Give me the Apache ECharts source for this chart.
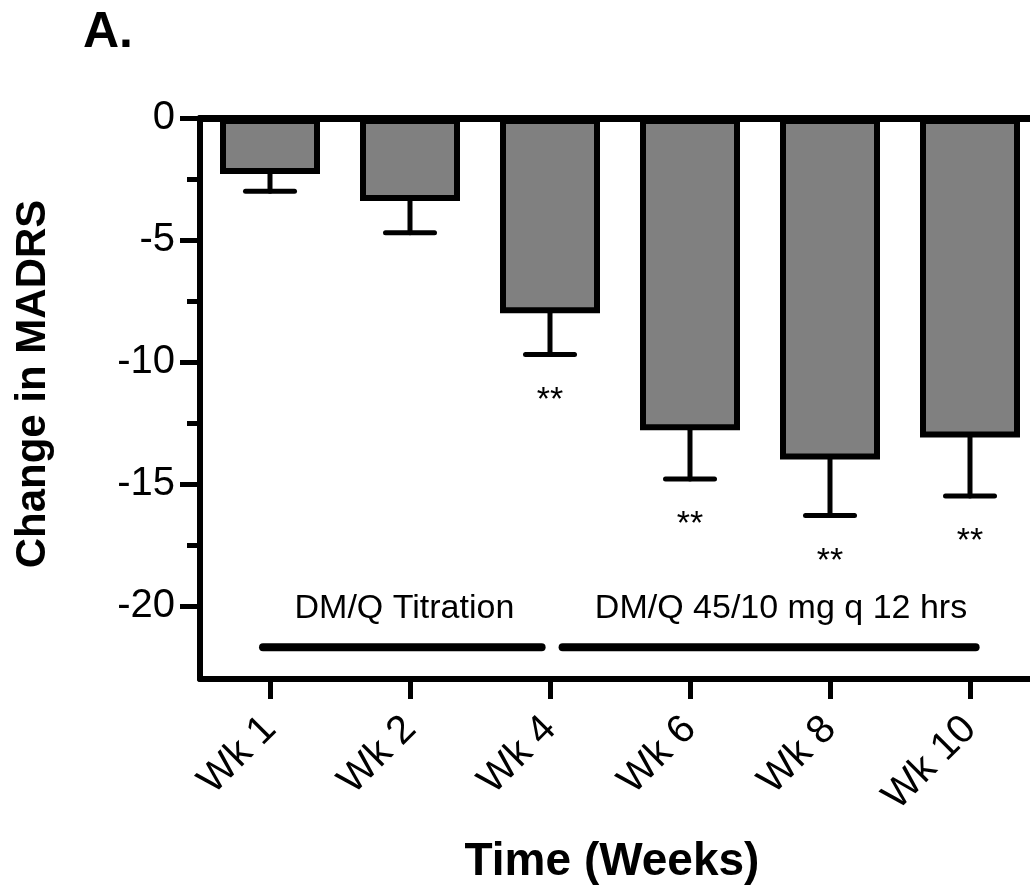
<!DOCTYPE html>
<html>
<head>
<meta charset="utf-8">
<script src="https://cdn.jsdelivr.net/npm/echarts@6/dist/echarts.min.js"></script>
<style>
  html, body { margin: 0; padding: 0; background: #fff; }
  #chart { width: 1030px; height: 893px; }
</style>
</head>
<body>
<div id="chart"></div>
<script>
// ---- data ----
var categories = ['Wk 1', 'Wk 2', 'Wk 4', 'Wk 6', 'Wk 8', 'Wk 10'];
var meanChange = [-2.3, -3.4, -8.0, -12.8, -14.0, -13.1];
var errorLower = [-3.0, -4.7, -9.7, -14.8, -16.3, -15.5];
var significance = ['', '', '**', '**', '**', '**'];
var yMajorTicks = [0, -5, -10, -15, -20];
var yMinorTicks = [-2.5, -7.5, -12.5, -17.5];
var phaseLabels = ['DM/Q Titration', 'DM/Q 45/10 mg q 12 hrs'];
var phaseStart = [-0.05, 2.09];
var phaseEnd = [1.94, 5.04];
var phaseLabelAt = [0.96, 3.65];
var phaseLineValue = -21.7;
var phaseLabelValue = -20.1;

var FONT = '"Liberation Sans", Arial, Helvetica, sans-serif';
var chart = echarts.init(document.getElementById('chart'), null, { renderer: 'canvas' });

function catX(api, pos) {
  var x0 = api.coord([0, 0])[0];
  var bw = api.size([1, 0])[0];
  return x0 + pos * bw;
}

var option = {
  backgroundColor: '#ffffff',
  animation: false,
  grid: { left: 200, right: -10, top: 118, bottom: 214, outerBoundsMode: 'none', containLabel: false },
  xAxis: [{
    type: 'category',
    data: categories,
    position: 'bottom',
    axisLine: { show: true, onZero: false, lineStyle: { color: '#000', width: 6 } },
    axisTick: { show: true, interval: 0, alignWithLabel: true, length: 20, lineStyle: { color: '#000', width: 5 } },
    axisLabel: { rotate: 45, interval: 0, fontSize: 40, margin: 44, color: '#000', fontFamily: FONT },
    splitLine: { show: false }
  }, {
    type: 'category',
    data: categories,
    position: 'top',
    axisLine: { show: true, onZero: false, lineStyle: { color: '#000', width: 7 } },
    axisTick: { show: false },
    axisLabel: { show: false },
    splitLine: { show: false }
  }],
  yAxis: [{
    type: 'value',
    min: -23,
    max: 0,
    position: 'left',
    axisLine: { show: true, onZero: false, lineStyle: { color: '#000', width: 6 } },
    axisTick: { show: true, customValues: yMajorTicks, length: 20, lineStyle: { color: '#000', width: 5 } },
    axisLabel: { customValues: yMajorTicks, fontSize: 40, margin: 25, color: '#000', fontFamily: FONT },
    splitLine: { show: false }
  }, {
    type: 'value',
    min: -23,
    max: 0,
    position: 'left',
    axisLine: { show: false, onZero: false },
    axisTick: { show: true, customValues: yMinorTicks, length: 13, lineStyle: { color: '#000', width: 5 } },
    axisLabel: { show: false },
    splitLine: { show: false }
  }],
  graphic: [
    { type: 'text', left: 83, top: 8, style: { text: 'A.', font: 'bold 50px ' + FONT, fill: '#000' } },
    { type: 'text', x: 33, y: 384, rotation: Math.PI / 2,
      style: { text: 'Change in MADRS', font: 'bold 42px ' + FONT, fill: '#000', align: 'center', verticalAlign: 'middle' } },
    { type: 'text', x: 612, y: 862,
      style: { text: 'Time (Weeks)', font: 'bold 46px ' + FONT, fill: '#000', align: 'center', verticalAlign: 'middle' } }
  ],
  series: [{
    type: 'bar',
    xAxisIndex: 0,
    yAxisIndex: 0,
    data: meanChange,
    barWidth: 100,
    itemStyle: { color: '#808080', borderColor: '#000', borderWidth: 6 },
    z: 3
  }, {
    type: 'custom',
    xAxisIndex: 0,
    yAxisIndex: 0,
    data: categories.map(function (c, i) { return [i, meanChange[i], errorLower[i]]; }),
    z: 2,
    renderItem: function (params, api) {
      var i = api.value(0);
      var pTop = api.coord([i, api.value(1)]);
      var pLow = api.coord([i, api.value(2)]);
      var half = api.size([1, 0])[0] * 0.175;
      var st = { stroke: '#000', lineWidth: 5, lineCap: 'round' };
      var children = [
        { type: 'line', shape: { x1: pTop[0], y1: pTop[1], x2: pLow[0], y2: pLow[1] }, style: st },
        { type: 'line', shape: { x1: pLow[0] - half, y1: pLow[1], x2: pLow[0] + half, y2: pLow[1] }, style: st }
      ];
      if (significance[i]) {
        children.push({ type: 'text', x: pLow[0], y: pLow[1] + 46,
          style: { text: significance[i], font: '34px ' + FONT, fill: '#000', align: 'center', verticalAlign: 'middle' } });
      }
      return { type: 'group', children: children };
    }
  }, {
    type: 'custom',
    xAxisIndex: 0,
    yAxisIndex: 0,
    data: phaseLabels.map(function (l, i) { return [i, phaseLineValue]; }),
    z: 2,
    renderItem: function (params, api) {
      var k = params.dataIndex;
      var y = api.coord([0, phaseLineValue])[1];
      var yt = api.coord([0, phaseLabelValue])[1];
      return { type: 'group', children: [
        { type: 'line', shape: { x1: catX(api, phaseStart[k]), y1: y, x2: catX(api, phaseEnd[k]), y2: y },
          style: { stroke: '#000', lineWidth: 8, lineCap: 'round' } },
        { type: 'text', x: catX(api, phaseLabelAt[k]), y: yt,
          style: { text: phaseLabels[k], font: '34px ' + FONT, fill: '#000', align: 'center', verticalAlign: 'middle' } }
      ] };
    }
  }]
};
chart.setOption(option);
</script>
</body>
</html>
